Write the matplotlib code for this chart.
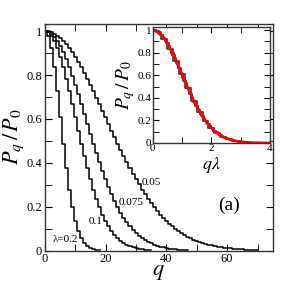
import numpy as np
import matplotlib
matplotlib.use("Agg")
import matplotlib.pyplot as plt
from matplotlib.ticker import MultipleLocator

plt.rcParams['font.family'] = ['Liberation Serif', 'DejaVu Serif']
plt.rcParams['mathtext.fontset'] = 'stix'

# ---- data ----
lam_labels = ["0.05", "0.075", "0.1", "λ=0.2"]
lambdas = [0.05, 0.075, 0.1, 0.2]

p_005 = [1.000, 0.999, 0.995, 0.989, 0.980, 0.969, 0.956, 0.941, 0.923, 0.904,
         0.882, 0.860, 0.835, 0.810, 0.783, 0.755, 0.726, 0.697, 0.667, 0.637,
         0.607, 0.576, 0.546, 0.516, 0.487, 0.458, 0.430, 0.402, 0.375, 0.350,
         0.325, 0.301, 0.278, 0.256, 0.236, 0.216, 0.198, 0.181, 0.164, 0.149,
         0.135, 0.122, 0.110, 0.099, 0.089, 0.080, 0.071, 0.063, 0.056, 0.050,
         0.044, 0.039, 0.034, 0.030, 0.026, 0.023, 0.020, 0.017, 0.015, 0.013,
         0.011, 0.010, 0.008, 0.007, 0.006, 0.005, 0.004, 0.004, 0.003, 0.003,
         0.002]
p_0075 = [1.000, 0.997, 0.989, 0.975, 0.956, 0.932, 0.904, 0.871, 0.835, 0.796,
          0.755, 0.712, 0.667, 0.622, 0.576, 0.531, 0.487, 0.444, 0.402, 0.362,
          0.325, 0.289, 0.256, 0.226, 0.198, 0.172, 0.149, 0.129, 0.110, 0.094,
          0.080, 0.067, 0.056, 0.047, 0.039, 0.032, 0.026, 0.021, 0.017, 0.014,
          0.011, 0.009, 0.007, 0.006, 0.004, 0.003, 0.003, 0.002]
p_01 = [1.000, 0.995, 0.980, 0.956, 0.923, 0.882, 0.835, 0.783, 0.726, 0.667,
        0.607, 0.546, 0.487, 0.430, 0.375, 0.325, 0.278, 0.236, 0.198, 0.164,
        0.135, 0.110, 0.089, 0.071, 0.056, 0.044, 0.034, 0.026, 0.020, 0.015,
        0.011, 0.008, 0.006, 0.004, 0.003, 0.002]
p_02 = [1.000, 0.980, 0.923, 0.835, 0.726, 0.607, 0.487, 0.375, 0.278, 0.198,
        0.135, 0.089, 0.056, 0.034, 0.020, 0.011, 0.006, 0.003, 0.002]
series = [p_005, p_0075, p_01, p_02]

fit_x = [0.0, 0.1, 0.2, 0.3, 0.4, 0.5, 0.6, 0.7, 0.8, 0.9, 1.0, 1.1, 1.2, 1.3,
         1.4, 1.5, 1.6, 1.7, 1.8, 1.9, 2.0, 2.1, 2.2, 2.3, 2.4, 2.5, 2.6, 2.7,
         2.8, 2.9, 3.0, 3.1, 3.2, 3.3, 3.4, 3.5, 3.6, 3.7, 3.8, 3.9, 4.0]
fit_y = [1.000, 0.995, 0.980, 0.956, 0.923, 0.882, 0.835, 0.783, 0.726, 0.667,
         0.607, 0.546, 0.487, 0.430, 0.375, 0.325, 0.278, 0.236, 0.198, 0.164,
         0.135, 0.110, 0.089, 0.071, 0.056, 0.044, 0.034, 0.026, 0.020, 0.015,
         0.011, 0.008, 0.006, 0.004, 0.003, 0.002, 0.002, 0.001, 0.001, 0.000,
         0.000]

# label positions (data coords of main axes)
label_pos = [(31.7, 0.31), (24.2, 0.22), (14.3, 0.13), (2.6, 0.05)]

fig = plt.figure(figsize=(2.91, 2.91), dpi=100)
ax = fig.add_axes([45/291, 1-250.5/291, (272.7-45)/291, (250.5-23.5)/291])

for vals in series:
    q = np.arange(len(vals))
    ax.step(q, vals, where='mid', color='black', lw=1.1)

for txt, (x, y) in zip(lam_labels, label_pos):
    ax.text(x, y, txt, fontsize=8, va='center', ha='left')
ax.text(57, 0.205, "(a)", fontsize=14, va='center', ha='left')

ax.set_xlim(0, 75)
ax.set_ylim(0, 1.035)
ax.set_xticks([0, 20, 40, 60])
ax.set_xticklabels(["0", "20", "40", "60"])
ax.xaxis.set_minor_locator(MultipleLocator(10))
ax.set_yticks([0, 0.2, 0.4, 0.6, 0.8, 1.0])
ax.set_yticklabels(["0", "0.2", "0.4", "0.6", "0.8", "1"])
ax.yaxis.set_minor_locator(MultipleLocator(0.1))
ax.tick_params(which='both', direction='in', top=True, right=True, labelsize=9, pad=2)
ax.tick_params(which='major', length=5)
ax.tick_params(which='minor', length=5)
for s in ax.spines.values():
    s.set_linewidth(1.0)
    s.set_color('#333333')
ax.set_xlabel("$q$", fontsize=16, labelpad=-2)
ax.set_ylabel("$P_q\\,/\\,P_0$", fontsize=16, labelpad=0)

# inset
ins = fig.add_axes([152.7/291, 1-143/291, (270-152.7)/291, (143-26.7)/291])
for lam, vals in zip(lambdas, series):
    q = np.arange(len(vals))
    ins.step(np.array(q) * lam, vals, where='mid', color='#444444', lw=1.3)
ins.plot(fit_x, fit_y, color='red', lw=2.0)
ins.set_xlim(0, 4)
ins.set_ylim(0, 1.03)
ins.set_xticks([0, 2, 4])
ins.set_xticklabels(["0", "2", "4"])
ins.xaxis.set_minor_locator(MultipleLocator(1))
ins.set_yticks([0, 0.2, 0.4, 0.6, 0.8, 1.0])
ins.set_yticklabels(["0", "0.2", "0.4", "0.6", "0.8", "1"])
ins.yaxis.set_minor_locator(MultipleLocator(0.1))
ins.tick_params(which='both', direction='in', top=True, right=True, labelsize=8, pad=1)
ins.tick_params(which='major', length=4)
ins.tick_params(which='minor', length=4)
for s in ins.spines.values():
    s.set_linewidth(1.0)
    s.set_color('#333333')
ins.set_xlabel("$q\\lambda$", fontsize=13, labelpad=1)
ins.set_ylabel("$P_q\\,/\\,P_0$", fontsize=14, labelpad=0)

fig.savefig("out.png", dpi=100)
